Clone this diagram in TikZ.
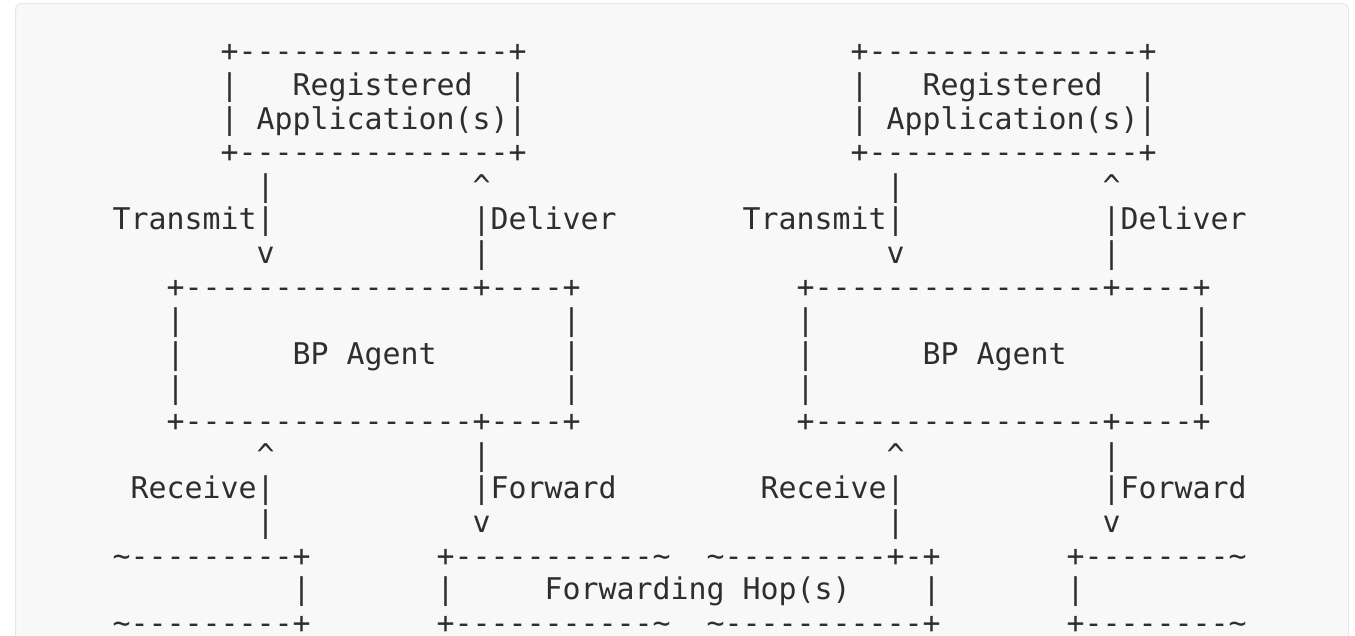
\documentclass[tikz,border=0pt]{standalone}
\usepackage{fontspec}
\setmonofont{DejaVu Sans Mono}
\definecolor{panelfill}{HTML}{F8F8F8}
\definecolor{panelline}{HTML}{E6E6E6}
\definecolor{inkcol}{HTML}{2E2E2E}
% one character cell of the ASCII figure
\newcommand{\cw}{18.0}
\newcommand{\lh}{33.6}
\newcommand{\xo}{112.6}
\newcommand{\yo}{62}
% \seg{name}{row}{column}{text}: a run of characters starting at a cell
\newcommand{\seg}[4]{\node[ascii] (#1) at ({\xo+#3*\cw},{\yo+(#2-1)*\lh}) {#4};}
\newcommand{\tl}{\textasciitilde}
\newcommand{\up}{\textasciicircum}
\begin{document}
\begin{tikzpicture}[x=1pt,y=-1pt,
  ascii/.style={anchor=base west,inner sep=0pt,outer sep=0pt,text=inkcol,
    font=\ttfamily\fontsize{29.9}{33.6}\selectfont}]
\useasboundingbox (0,0) rectangle (1355,636);
\fill[white] (0,0) rectangle (1355,636);
\draw[panelline,fill=panelfill,line width=1pt,rounded corners=6pt]
  (15.5,3.5) rectangle (1348.5,680);

% left stack: application box
\seg{appLtop}{1}{6}{+---------------+}
\seg{appLa}{2}{6}{|}
\seg{appLname}{2}{10}{Registered}
\seg{appLb}{2}{22}{|}
\seg{appLc}{3}{6}{|}
\seg{appLname2}{3}{8}{Application(s)|}
\seg{appLbot}{4}{6}{+---------------+}
% left stack: transmit / deliver
\seg{txL1}{5}{8}{|}
\seg{dvL1}{5}{20}{\up}
\seg{txL2}{6}{0}{Transmit|}
\seg{dvL2}{6}{20}{|Deliver}
\seg{txL3}{7}{8}{v}
\seg{dvL3}{7}{20}{|}
% left stack: BP agent
\seg{bpLtop}{8}{3}{+----------------+----+}
\seg{bpLa}{9}{3}{|}
\seg{bpLb}{9}{25}{|}
\seg{bpLname}{10}{10}{BP Agent}
\seg{bpLc}{10}{3}{|}
\seg{bpLd}{10}{25}{|}
\seg{bpLe}{11}{3}{|}
\seg{bpLf}{11}{25}{|}
\seg{bpLbot}{12}{3}{+----------------+----+}
% left stack: receive / forward
\seg{rxL1}{13}{8}{\up}
\seg{fwL1}{13}{20}{|}
\seg{rxL2}{14}{1}{Receive|}
\seg{fwL2}{14}{20}{|Forward}
\seg{rxL3}{15}{8}{|}
\seg{fwL3}{15}{20}{v}

% right stack: application box
\seg{appRtop}{1}{41}{+---------------+}
\seg{appRa}{2}{41}{|}
\seg{appRname}{2}{45}{Registered}
\seg{appRb}{2}{57}{|}
\seg{appRc}{3}{41}{|}
\seg{appRname2}{3}{43}{Application(s)|}
\seg{appRbot}{4}{41}{+---------------+}
% right stack: transmit / deliver
\seg{txR1}{5}{43}{|}
\seg{dvR1}{5}{55}{\up}
\seg{txR2}{6}{35}{Transmit|}
\seg{dvR2}{6}{55}{|Deliver}
\seg{txR3}{7}{43}{v}
\seg{dvR3}{7}{55}{|}
% right stack: BP agent
\seg{bpRtop}{8}{38}{+----------------+----+}
\seg{bpRa}{9}{38}{|}
\seg{bpRb}{9}{60}{|}
\seg{bpRname}{10}{45}{BP Agent}
\seg{bpRc}{10}{38}{|}
\seg{bpRd}{10}{60}{|}
\seg{bpRe}{11}{38}{|}
\seg{bpRf}{11}{60}{|}
\seg{bpRbot}{12}{38}{+----------------+----+}
% right stack: receive / forward
\seg{rxR1}{13}{43}{\up}
\seg{fwR1}{13}{55}{|}
\seg{rxR2}{14}{36}{Receive|}
\seg{fwR2}{14}{55}{|Forward}
\seg{rxR3}{15}{43}{|}
\seg{fwR3}{15}{55}{v}

% forwarding hops
\seg{hopA1}{16}{0}{\tl---------+}
\seg{hopB1}{16}{18}{+-----------\tl}
\seg{hopC1}{16}{33}{\tl---------+-+}
\seg{hopD1}{16}{53}{+--------\tl}
\seg{hopA2}{17}{10}{|}
\seg{hopB2}{17}{18}{|}
\seg{hopname}{17}{24}{Forwarding Hop(s)}
\seg{hopC2}{17}{45}{|}
\seg{hopD2}{17}{53}{|}
\seg{hopA3}{18}{0}{\tl---------+}
\seg{hopB3}{18}{18}{+-----------\tl}
\seg{hopC3}{18}{33}{\tl-----------+}
\seg{hopD3}{18}{53}{+--------\tl}
\end{tikzpicture}
\end{document}
